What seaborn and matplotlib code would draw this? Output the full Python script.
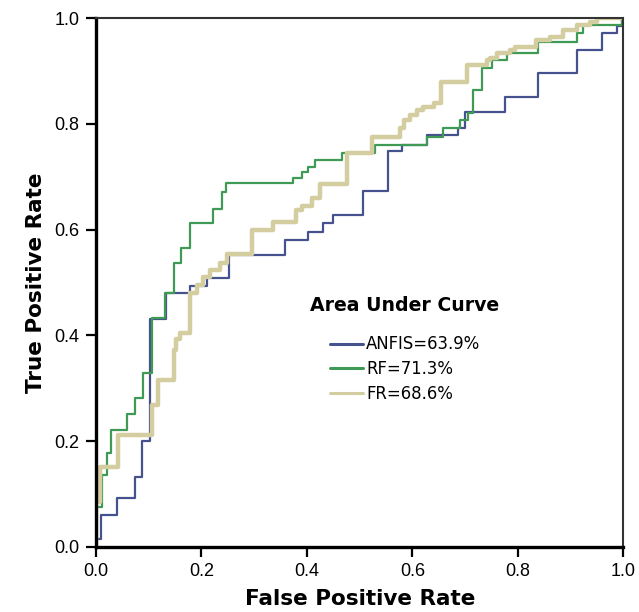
import matplotlib
matplotlib.use("Agg")
import matplotlib.pyplot as plt
import seaborn as sns
import pandas as pd

# ROC points (corner of each step)
anfis_fpr = [0, 0.01, 0.04, 0.074, 0.088, 0.103, 0.132, 0.178, 0.21, 0.252,
             0.358, 0.402, 0.43, 0.45, 0.506, 0.554, 0.58, 0.627, 0.687, 0.70,
             0.775, 0.838, 0.911, 0.959, 0.988, 0.998, 1.0]
anfis_tpr = [0, 0.015, 0.06, 0.092, 0.132, 0.20, 0.43, 0.48, 0.494, 0.508,
             0.552, 0.58, 0.596, 0.612, 0.628, 0.674, 0.748, 0.76, 0.779, 0.792,
             0.823, 0.852, 0.896, 0.94, 0.972, 0.985, 1.0]

rf_fpr = [0, 0.012, 0.02, 0.028, 0.058, 0.074, 0.09, 0.106, 0.131, 0.147,
          0.162, 0.178, 0.222, 0.238, 0.246, 0.374, 0.39, 0.402, 0.415, 0.466,
          0.529, 0.627, 0.658, 0.69, 0.705, 0.715, 0.731, 0.75, 0.78, 0.838,
          0.911, 0.924, 0.997, 1.0]
rf_tpr = [0, 0.075, 0.135, 0.177, 0.221, 0.252, 0.281, 0.328, 0.432, 0.48,
          0.536, 0.565, 0.612, 0.64, 0.672, 0.688, 0.697, 0.71, 0.719, 0.732,
          0.745, 0.76, 0.776, 0.792, 0.807, 0.82, 0.864, 0.905, 0.921, 0.934,
          0.955, 0.972, 0.987, 1.0]

fr_fpr = [0, 0.008, 0.042, 0.106, 0.118, 0.147, 0.152, 0.159, 0.178, 0.191,
          0.203, 0.216, 0.235, 0.248, 0.295, 0.336, 0.38, 0.39, 0.41, 0.425,
          0.475, 0.523, 0.576, 0.583, 0.595, 0.608, 0.62, 0.64, 0.655, 0.703,
          0.741, 0.747, 0.76, 0.785, 0.794, 0.835, 0.861, 0.886, 0.911, 0.937,
          0.949, 1.0]
fr_tpr = [0, 0.085, 0.151, 0.211, 0.268, 0.315, 0.372, 0.394, 0.404, 0.48,
          0.495, 0.511, 0.524, 0.536, 0.553, 0.599, 0.615, 0.637, 0.645, 0.659,
          0.686, 0.745, 0.776, 0.792, 0.807, 0.817, 0.826, 0.833, 0.839, 0.88,
          0.912, 0.921, 0.924, 0.934, 0.94, 0.946, 0.959, 0.965, 0.978, 0.987,
          0.993, 1.0]

models = ["ANFIS", "RF", "FR"]
auc = [63.9, 71.3, 68.6]
ticks = [0.0, 0.2, 0.4, 0.6, 0.8, 1.0]

sns.set_style("white")
plt.rcParams["font.family"] = ["Liberation Sans", "DejaVu Sans"]
plt.rcParams["text.color"] = "black"
plt.rcParams["axes.labelcolor"] = "black"
plt.rcParams["xtick.color"] = "black"
plt.rcParams["ytick.color"] = "black"

fig = plt.figure(figsize=(6.39, 6.12), dpi=100)
ax = fig.add_axes([0.1502, 0.1067, 0.8255, 0.8634])

curves = [(anfis_fpr, anfis_tpr), (rf_fpr, rf_tpr), (fr_fpr, fr_tpr)]
colors = ["#46528e", "#3f9a55", "#d3cd9f"]
widths = [1.6, 1.6, 3.2]

for (fx, ty), name, a, c, w in zip(curves, models, auc, colors, widths):
    df = pd.DataFrame({"fpr": fx, "tpr": ty})
    sns.lineplot(data=df, x="fpr", y="tpr", ax=ax, sort=False, estimator=None,
                 drawstyle="steps-pre", color=c, linewidth=w,
                 label=f"{name}={a}%")

ax.set_xlim(0, 1)
ax.set_ylim(0, 1)
ax.set_xticks(ticks)
ax.set_yticks(ticks)
ax.set_xticklabels([f"{t:.1f}" for t in ticks])
ax.set_yticklabels([f"{t:.1f}" for t in ticks])
ax.tick_params(axis="both", direction="out", length=7, width=1.6,
               color="black", labelcolor="black", labelsize=13, pad=5,
               bottom=True, left=True)

for s in ["left", "bottom"]:
    ax.spines[s].set_color("black")
    ax.spines[s].set_linewidth(2.4)
for s in ["top", "right"]:
    ax.spines[s].set_color("#333333")
    ax.spines[s].set_linewidth(1.5)

ax.set_xlabel("False Positive Rate", fontsize=15.5, fontweight="bold",
              family="DejaVu Sans", labelpad=6)
ax.set_ylabel("True Positive Rate", fontsize=15.5, fontweight="bold",
              family="DejaVu Sans", labelpad=6)

ax.text(0.406, 0.457, "Area Under Curve", transform=ax.transAxes,
        fontsize=13.6, fontweight="bold", family="DejaVu Sans",
        va="center", ha="left")
leg = ax.legend(loc="upper left", bbox_to_anchor=(0.4436, 0.40), frameon=False,
                prop={"family": "DejaVu Sans", "size": 11.9},
                handlelength=2.0, handletextpad=0.2,
                labelspacing=0.4, borderpad=0, borderaxespad=0)
for line in leg.get_lines():
    line.set_linewidth(2.2)

fig.savefig("out.png", dpi=100)
